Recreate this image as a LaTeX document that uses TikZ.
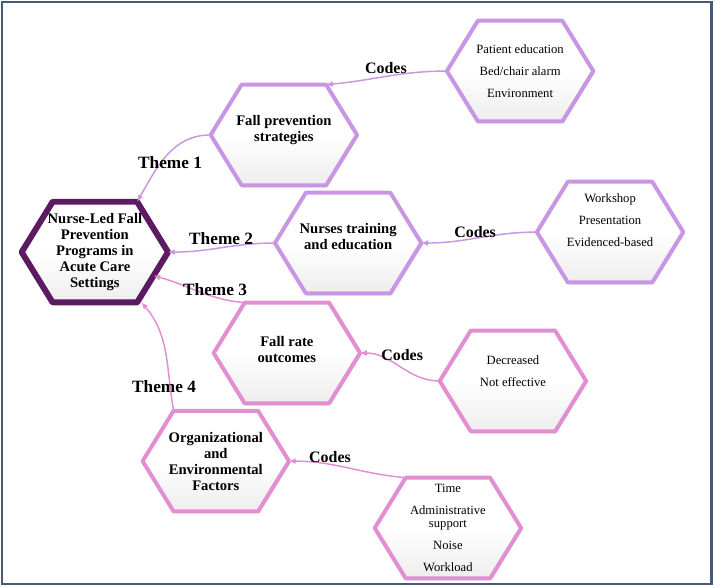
\documentclass[tikz,border=0pt]{standalone}
\usepackage{fontspec}
\setmainfont{Liberation Serif}
\usetikzlibrary{arrows.meta,backgrounds,shadows,calc}

\definecolor{lilac}{RGB}{200,150,226}
\definecolor{rosy}{RGB}{226,142,210}
\definecolor{plum}{RGB}{92,26,96}
\definecolor{frameblue}{RGB}{70,90,125}

% hexagon round a node (flat top and bottom)
\newcommand{\hexcut}{0.82cm}
\newcommand{\hexof}[1]{(#1.west) -- ([xshift=\hexcut]#1.north west) -- ([xshift=-\hexcut]#1.north east) -- (#1.east) -- ([xshift=-\hexcut]#1.south east) -- ([xshift=\hexcut]#1.south west) -- cycle}
% text set higher than the middle of the hexagon
\newcommand{\lifted}[2]{\raisebox{#1}[\height][\depth]{\begin{tabular}{@{}c@{}}#2\end{tabular}}}

\tikzset{
  hexbox/.style={rectangle, minimum width=3.86cm, minimum height=2.65cm, inner sep=0pt, align=center},
  themebox/.style={hexbox, font=\fontsize{11}{12}\selectfont\bfseries},
  codebox/.style={hexbox, font=\fontsize{9.5}{10}\selectfont},
  hexline/.style={draw=#1, line width=3pt, line join=round, top color=white, bottom color=black!7, middle color=white,
    drop shadow={shadow xshift=1pt, shadow yshift=-1.5pt, opacity=0.25}},
  link/.style={draw=#1, line width=1.1pt, -{Latex[length=5pt,width=4.5pt]}},
  themelabel/.style={font=\fontsize{13}{15}\selectfont\bfseries},
  codelabel/.style={font=\fontsize{12}{14}\selectfont\bfseries}
}

\begin{document}
\begin{tikzpicture}

\useasboundingbox (0,0) rectangle (18.89,15.53);
\draw[frameblue, line width=1.8pt] (0.06,0.08) rectangle (18.82,15.47);

% themes and codes
\node[codebox] (pat) at (13.76,13.65) {Patient education\\[6.5pt]Bed/chair alarm\\[6.5pt]Environment};
\node[themebox] (fps) at (7.51,11.96) {\lifted{3.5pt}{Fall prevention\\strategies}};
\node[themebox] (core) at (2.51,8.86) {Nurse-Led Fall\\Prevention\\Programs in\\Acute Care\\Settings};
\node[themebox] (nte) at (9.21,9.10) {\lifted{3.5pt}{Nurses training\\and education}};
\node[codebox] (wks) at (16.14,9.39) {\lifted{7.5pt}{Workshop\\[6.5pt]Presentation\\[6.5pt]Evidenced-based}};
\node[themebox] (fro) at (7.59,6.19) {\lifted{1.5pt}{Fall rate\\outcomes}};
\node[codebox] (dec) at (13.57,5.45) {\lifted{6pt}{Decreased\\[6.5pt]Not effective}};
\node[themebox] (oef) at (5.71,3.33) {Organizational\\and\\Environmental\\Factors};
\node[codebox] (tim) at (11.85,1.56) {Time\\[6.5pt]Administrative\\support\\[6.5pt]Noise\\[6.5pt]Workload};

\begin{pgfonlayer}{background}
\foreach \n in {pat,fps,nte,wks}
  \draw[hexline=lilac] \hexof{\n};
\foreach \n in {fro,dec,oef,tim}
  \draw[hexline=rosy] \hexof{\n};
\draw[hexline=plum, line width=4.5pt] \hexof{core};
\end{pgfonlayer}

% links
\draw[link=lilac] (pat.west) to[out=180,in=5] ([xshift=-\hexcut]fps.north east);
\draw[link=lilac] (fps.west) to[out=180,in=60] ([xshift=-\hexcut]core.north east);
\draw[link=lilac] (nte.west) to[out=180,in=0] (core.east);
\draw[link=lilac] (wks.west) to[out=180,in=0] (nte.east);
\draw[link=rosy] ([xshift=\hexcut]fro.north west) to[out=175,in=-15] ($(core.east)!0.47!([xshift=-\hexcut]core.south east)$);
\draw[link=rosy] (dec.west) to[out=180,in=0] (fro.east);
\draw[link=rosy] ([xshift=\hexcut]oef.north west) to[out=100,in=-50] ([xshift=-0.7cm]core.south east);
\draw[link=rosy] ([xshift=\hexcut]tim.north west) to[out=175,in=0] (oef.east);

\node[themelabel] (t1) at (4.50,11.22) {Theme 1};
\node[themelabel] (t2) at (5.85,9.23) {Theme 2};
\node[themelabel] (t3) at (5.69,7.88) {Theme 3};
\node[themelabel] (t4) at (4.34,5.29) {Theme 4};
\node[codelabel] (c1) at (10.21,13.73) {Codes};
\node[codelabel] (c2) at (12.57,9.39) {Codes};
\node[codelabel] (c3) at (10.64,6.14) {Codes};
\node[codelabel] (c4) at (8.73,3.44) {Codes};

\end{tikzpicture}
\end{document}
